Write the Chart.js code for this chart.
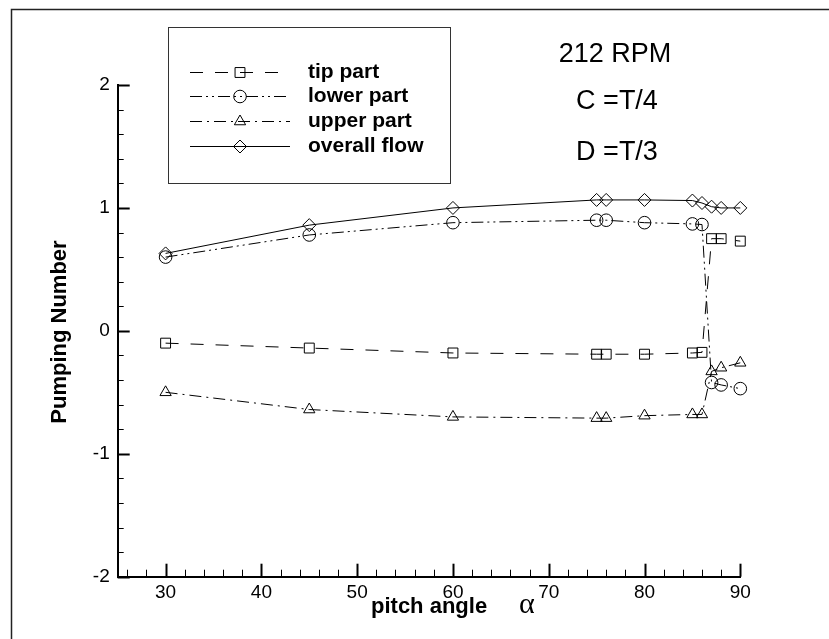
<!DOCTYPE html>
<html>
<head>
<meta charset="utf-8">
<script src="https://cdn.jsdelivr.net/npm/chart.js@4.4.1/dist/chart.umd.min.js"></script>
<style>
  html, body { margin: 0; padding: 0; background: #fff; }
  #wrap { width: 829px; height: 639px; }
</style>
</head>
<body>
<div id="wrap"><canvas id="chart" width="829" height="639"></canvas></div>
<script>
// data
const pitchAngles = [30, 45, 60, 75, 76, 80, 85, 86, 87, 88, 90];
const tipPart     = [-0.10, -0.14, -0.18, -0.19, -0.19, -0.19, -0.18, -0.175, 0.75, 0.75, 0.73];
const lowerPart   = [0.60, 0.78, 0.88, 0.90, 0.90, 0.88, 0.87, 0.865, -0.42, -0.44, -0.47];
const upperPart   = [-0.50, -0.64, -0.70, -0.71, -0.71, -0.69, -0.68, -0.68, -0.33, -0.30, -0.26];
const overallFlow = [0.63, 0.86, 1.00, 1.065, 1.065, 1.065, 1.06, 1.04, 1.01, 1.00, 1.00];

const seriesNames = ['tip part', 'lower part', 'upper part', 'overall flow'];
const xTickLabels = [30, 40, 50, 60, 70, 80, 90];
const yTickLabels = [-2, -1, 0, 1, 2];
const annotations = ['212 RPM', 'C =T/4', 'D =T/3'];

const FONT = "'Liberation Sans', Arial, sans-serif";

function series(values, name, dash, pointStyle, radius) {
  return {
    label: name,
    data: pitchAngles.map((a, i) => ({ x: a, y: values[i] })),
    borderColor: '#000',
    borderWidth: 1,
    borderDash: dash,
    pointStyle: pointStyle,
    pointRadius: radius,
    pointBorderColor: '#000',
    pointBorderWidth: 1,
    pointBackgroundColor: 'rgba(0,0,0,0)',
    clip: false,
    tension: 0
  };
}

// inward major / minor ticks, axis titles, legend box and notes
const decorations = {
  id: 'decorations',
  beforeDatasetsDraw(chart) {
    const ctx = chart.ctx;
    const xs = chart.scales.x, ys = chart.scales.y;
    const a = chart.chartArea;
    ctx.save();
    ctx.strokeStyle = '#000';
    // x ticks
    for (let v = 26; v <= 90; v += 2) {
      const px = Math.round(xs.getPixelForValue(v)) + 0.5;
      const major = v % 10 === 0;
      ctx.lineWidth = major ? 2 : 1;
      ctx.beginPath();
      ctx.moveTo(px, a.bottom);
      ctx.lineTo(px, a.bottom - (major ? 13 : 7));
      ctx.stroke();
    }
    // y ticks
    for (let k = -10; k <= 10; k++) {
      const v = k / 5;
      const py = Math.round(ys.getPixelForValue(v)) + 0.5;
      const major = k % 5 === 0;
      ctx.lineWidth = major ? 2 : 1;
      ctx.beginPath();
      ctx.moveTo(a.left, py);
      ctx.lineTo(a.left + (major ? 12 : 6), py);
      ctx.stroke();
    }
    ctx.restore();
  },
  afterDraw(chart) {
    const ctx = chart.ctx;
    ctx.save();
    // outer frame
    ctx.strokeStyle = '#222';
    ctx.lineWidth = 1.5;
    ctx.beginPath();
    ctx.moveTo(11.5, 639);
    ctx.lineTo(11.5, 9.5);
    ctx.lineTo(829, 9.5);
    ctx.stroke();

    ctx.fillStyle = '#000';
    // y title
    ctx.save();
    ctx.translate(60, 332);
    ctx.rotate(-Math.PI / 2);
    ctx.font = 'bold 22px ' + FONT;
    ctx.textAlign = 'center';
    ctx.textBaseline = 'middle';
    ctx.fillText('Pumping Number', 0, 0);
    ctx.restore();

    // x title
    ctx.font = 'bold 22px ' + FONT;
    ctx.textAlign = 'left';
    ctx.textBaseline = 'alphabetic';
    ctx.fillText('pitch angle', 371, 613);
    ctx.font = "30px 'Liberation Serif', 'DejaVu Serif', serif";
    ctx.fillText('\u03b1', 519, 613);

    // notes
    ctx.font = '27px ' + FONT;
    ctx.textAlign = 'center';
    ctx.fillText(annotations[0], 615, 62);
    ctx.fillText(annotations[1], 617, 109);
    ctx.fillText(annotations[2], 617, 160);

    // legend
    ctx.strokeStyle = '#333';
    ctx.lineWidth = 1;
    ctx.strokeRect(168.5, 27.5, 282, 156);
    const rows = [72, 96, 121, 146];
    chart.data.datasets.forEach((ds, i) => {
      const y = rows[i];
      ctx.strokeStyle = '#000';
      ctx.lineWidth = 1;
      ctx.setLineDash(ds.borderDash || []);
      ctx.beginPath();
      ctx.moveTo(190, y + 0.5);
      ctx.lineTo(290, y + 0.5);
      ctx.stroke();
      ctx.setLineDash([]);
      ctx.fillStyle = 'rgba(0,0,0,0)';
      Chart.helpers.drawPoint(ctx, {
        pointStyle: ds.pointStyle, radius: ds.pointRadius, borderWidth: 1, rotation: 0
      }, 240, y + 0.5);
      ctx.font = 'bold 21px ' + FONT;
      ctx.textAlign = 'left';
      ctx.textBaseline = 'middle';
      ctx.fillStyle = '#000';
      ctx.fillText(seriesNames[i], 308, y);
    });
    ctx.restore();
  }
};

new Chart(document.getElementById('chart'), {
  type: 'line',
  data: {
    datasets: [
      series(tipPart, seriesNames[0], [13, 12], 'rect', 7),
      series(lowerPart, seriesNames[1], [12, 4, 2, 4, 2, 4], 'circle', 6.3),
      series(upperPart, seriesNames[2], [12, 5, 2, 5], 'triangle', 6.5),
      series(overallFlow, seriesNames[3], [], 'rectRot', 6.5)
    ]
  },
  options: {
    responsive: false,
    animation: false,
    layout: { padding: { left: 0, right: 88.7, top: 85, bottom: 0 } },
    plugins: { legend: { display: false }, tooltip: { enabled: false } },
    scales: {
      x: {
        type: 'linear',
        min: 25,
        max: 90,
        afterBuildTicks(s) { s.ticks = xTickLabels.map(v => ({ value: v })); },
        afterFit(s) { s.height = 62.3; },
        grid: { display: false, drawTicks: false },
        border: { display: true, color: '#000', width: 2 },
        ticks: { color: '#000', padding: 5, maxRotation: 0, font: { family: FONT, size: 19 } }
      },
      y: {
        type: 'linear',
        min: -2,
        max: 2,
        afterBuildTicks(s) { s.ticks = yTickLabels.map(v => ({ value: v })); },
        afterFit(s) { s.width = 117.7; },
        grid: { display: false, drawTicks: false },
        border: { display: true, color: '#000', width: 2 },
        ticks: { color: '#000', padding: 8, font: { family: FONT, size: 19 } }
      }
    }
  },
  plugins: [decorations]
});
</script>
</body>
</html>
